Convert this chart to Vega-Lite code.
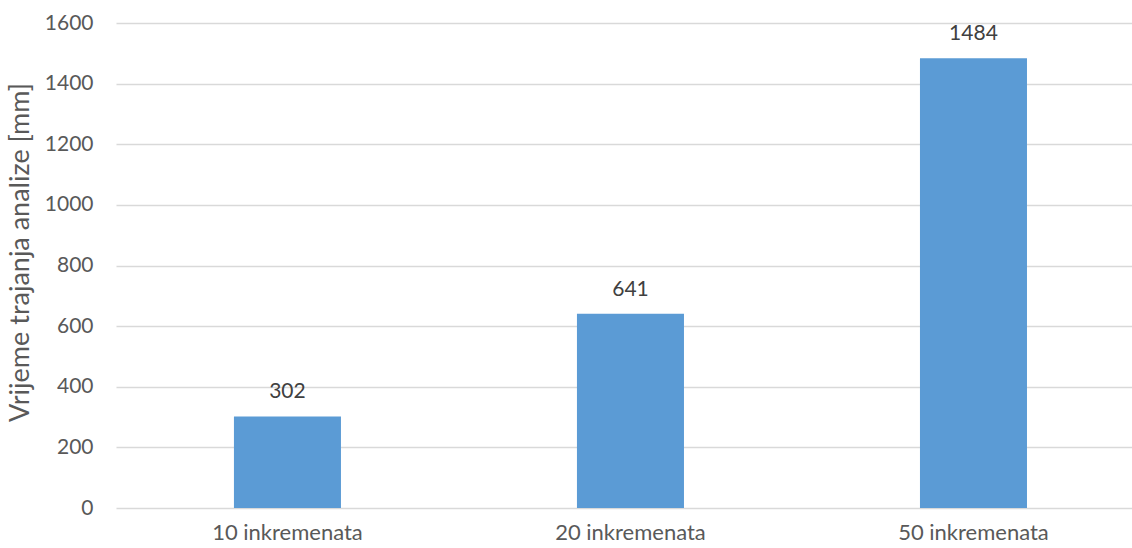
{
  "$schema": "https://vega.github.io/schema/vega-lite/v6.json",
  "width": 1016,
  "height": 485,
  "autosize": {"type": "none"},
  "padding": {"left": 116, "top": 23, "right": 0, "bottom": 40},
  "background": "white",
  "config": {
    "view": {"stroke": null},
    "font": "Lato",
    "axis": {"labelFont": "Lato", "titleFont": "Lato", "labelColor": "#595959", "titleColor": "#595959"}
  },
  "data": {
    "values": [
      {"kategorija": "10 inkremenata", "vrijeme": 302},
      {"kategorija": "20 inkremenata", "vrijeme": 641},
      {"kategorija": "50 inkremenata", "vrijeme": 1484}
    ]
  },
  "encoding": {
    "x": {
      "field": "kategorija",
      "type": "nominal",
      "sort": null,
      "scale": {"paddingInner": 0.688, "paddingOuter": 0.325, "align": 0.529},
      "axis": {"title": null, "labelAngle": 0, "labelFontSize": 22, "labelPadding": 14, "ticks": false, "domain": false, "grid": false}
    },
    "y": {
      "field": "vrijeme",
      "type": "quantitative",
      "scale": {"domain": [0, 1600], "nice": false},
      "axis": {
        "title": "Vrijeme trajanja analize [mm]",
        "titleFontSize": 27,
        "titleFontWeight": "normal",
        "titlePadding": 10,
        "titleY": 229,
        "values": [0, 200, 400, 600, 800, 1000, 1200, 1400, 1600],
        "format": "d",
        "labelFontSize": 21,
        "labelPadding": 23,
        "ticks": false,
        "domain": false,
        "grid": true,
        "gridColor": "#d9d9d9",
        "gridWidth": 1.3
      }
    }
  },
  "layer": [
    {"mark": {"type": "bar", "color": "#5B9BD5"}},
    {
      "mark": {"type": "text", "baseline": "alphabetic", "dy": -18, "fontSize": 21, "color": "#404040", "font": "Lato"},
      "encoding": {"text": {"field": "vrijeme", "type": "quantitative"}}
    }
  ]
}
